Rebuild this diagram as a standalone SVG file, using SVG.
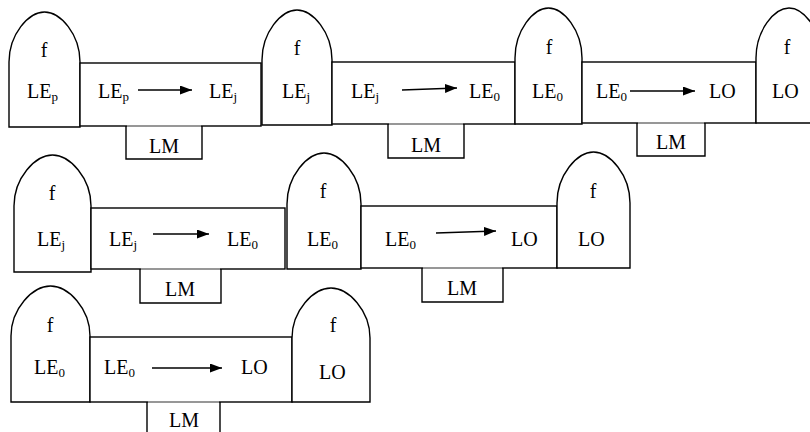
<svg xmlns="http://www.w3.org/2000/svg" width="810" height="432" viewBox="0 0 810 432">
  <style>
    .sh { fill: #fff; stroke: #000; stroke-width: 1.4; }
    .lm { fill: none; stroke: #000; stroke-width: 1.4; }
    .seam { stroke: #b0b0b0; stroke-width: 1.6; }
    .ar { stroke: #000; stroke-width: 1.5; fill: none; marker-end: url(#head); }
    text { font-family: "Liberation Serif", "Times New Roman", serif; font-size: 20px; fill: #000; }
    .c { text-anchor: middle; }
    .sub { font-size: 13px; }
  </style>
  <defs>
    <marker id="head" markerUnits="userSpaceOnUse" markerWidth="12" markerHeight="9" refX="12" refY="4.5" orient="auto">
      <path d="M0,0 L12,4.5 L0,9 Z" fill="#000"/>
    </marker>
  </defs>

  <rect width="810" height="432" fill="#fff"/>

  <!-- Row 1 -->
  <g id="dome1">
    <path class="sh" d="M9,127 V62 C9,34.5 28.5,12 44.5,12 C60.5,12 80,34.5 80,62 V127 Z"/>
    <text class="c" x="44" y="57">f</text>
    <text x="27" y="98">LE<tspan class="sub" dy="3">p</tspan></text>
  </g>
  <g id="stage1">
    <rect class="sh" x="80" y="63" width="181" height="63"/>
    <text x="98" y="98">LE<tspan class="sub" dy="3">p</tspan></text>
    <text x="209" y="98">LE<tspan class="sub" dy="3">j</tspan></text>
  </g>
  <g id="lm1">
    <path class="lm" d="M126,126 V159 H202 V126"/>
    <line class="seam" x1="127" y1="126" x2="201" y2="126"/>
    <text class="c" x="164" y="153">LM</text>
  </g>

  <g id="dome2">
    <path class="sh" d="M262,125 V60 C262,32.5 281.2,10 297,10 C312.8,10 332,32.5 332,60 V125 Z"/>
    <text class="c" x="297" y="55">f</text>
    <text x="282" y="98">LE<tspan class="sub" dy="3">j</tspan></text>
  </g>
  <g id="stage2">
    <rect class="sh" x="332" y="62" width="183" height="62"/>
    <text x="351" y="98">LE<tspan class="sub" dy="3">j</tspan></text>
    <text x="469" y="98">LE<tspan class="sub" dy="3">0</tspan></text>
  </g>
  <g id="lm2">
    <path class="lm" d="M388,124 V158 H464 V124"/>
    <line class="seam" x1="389" y1="124" x2="463" y2="124"/>
    <text class="c" x="426" y="152">LM</text>
  </g>

  <g id="dome3">
    <path class="sh" d="M515,124 V58 C515,30.5 533.4,8 548.5,8 C563.6,8 582,30.5 582,58 V124 Z"/>
    <text class="c" x="549" y="54">f</text>
    <text x="532" y="98">LE<tspan class="sub" dy="3">0</tspan></text>
  </g>
  <g id="stage3">
    <rect class="sh" x="582" y="62" width="174" height="61"/>
    <text x="596" y="98">LE<tspan class="sub" dy="3">0</tspan></text>
    <text x="709" y="98">LO</text>
  </g>
  <g id="lm3">
    <path class="lm" d="M637,123 V156 H705 V123"/>
    <line class="seam" x1="638" y1="123" x2="704" y2="123"/>
    <text class="c" x="671" y="149">LM</text>
  </g>

  <g id="dome4">
    <path class="sh" d="M756,123 V58 C756,30.5 774.2,8 789,8 C803.8,8 822,30.5 822,58 V123 Z"/>
    <text class="c" x="787" y="54">f</text>
    <text x="772" y="98">LO</text>
  </g>

  <!-- Row 2 -->
  <g id="dome5">
    <path class="sh" d="M14,272 V206 C14,177.95 35.2,155 52.5,155 C69.8,155 91,177.95 91,206 V272 Z"/>
    <text class="c" x="52" y="200">f</text>
    <text x="37" y="246">LE<tspan class="sub" dy="3">j</tspan></text>
  </g>
  <g id="stage5">
    <rect class="sh" x="91" y="208" width="194" height="61"/>
    <text x="109" y="246">LE<tspan class="sub" dy="3">j</tspan></text>
    <text x="227" y="246">LE<tspan class="sub" dy="3">0</tspan></text>
  </g>
  <g id="lm5">
    <path class="lm" d="M140,269 V303 H221 V269"/>
    <line class="seam" x1="141" y1="269" x2="220" y2="269"/>
    <text class="c" x="180" y="296">LM</text>
  </g>

  <g id="dome6">
    <path class="sh" d="M287,269 V204 C287,175.95 307.4,153 324,153 C340.6,153 361,175.95 361,204 V269 Z"/>
    <text class="c" x="323" y="198">f</text>
    <text x="307" y="246">LE<tspan class="sub" dy="3">0</tspan></text>
  </g>
  <g id="stage6">
    <rect class="sh" x="361" y="206" width="196" height="62"/>
    <text x="385" y="246">LE<tspan class="sub" dy="3">0</tspan></text>
    <text x="511" y="246">LO</text>
  </g>
  <g id="lm6">
    <path class="lm" d="M422,268 V302 H503 V268"/>
    <line class="seam" x1="423" y1="268" x2="502" y2="268"/>
    <text class="c" x="462" y="295">LM</text>
  </g>

  <g id="dome7">
    <path class="sh" d="M557,268 V203 C557,174.95 577.1,152 593.5,152 C609.9,152 630,174.95 630,203 V268 Z"/>
    <text class="c" x="593" y="198">f</text>
    <text x="578" y="246">LO</text>
  </g>

  <!-- Row 3 -->
  <g id="dome8">
    <path class="sh" d="M11,402 V336 C11,308.5 32.7,286 50.5,286 C68.3,286 90,308.5 90,336 V402 Z"/>
    <text class="c" x="50" y="332">f</text>
    <text x="34" y="374">LE<tspan class="sub" dy="3">0</tspan></text>
  </g>
  <g id="stage8">
    <rect class="sh" x="90" y="337" width="202" height="65"/>
    <text x="104" y="374">LE<tspan class="sub" dy="3">0</tspan></text>
    <text x="241" y="374">LO</text>
  </g>
  <g id="lm8">
    <path class="lm" d="M147,402 V445 H220 V402"/>
    <line class="seam" x1="148" y1="402" x2="219" y2="402"/>
    <text class="c" x="184" y="427">LM</text>
  </g>

  <g id="dome9">
    <path class="sh" d="M292,402 V338 C292,310.5 313.5,288 331,288 C348.5,288 370,310.5 370,338 V402 Z"/>
    <text class="c" x="333" y="332">f</text>
    <text x="319" y="379">LO</text>
  </g>

  <!-- Transition arrows -->
  <g id="connectors">
    <line class="ar" x1="138" y1="90" x2="192" y2="90"/>
    <line class="ar" x1="402" y1="90" x2="457" y2="88"/>
    <line class="ar" x1="630" y1="91" x2="695" y2="91"/>
    <line class="ar" x1="153" y1="234" x2="209" y2="234"/>
    <line class="ar" x1="436" y1="233" x2="496" y2="231"/>
    <line class="ar" x1="152" y1="368" x2="222" y2="368"/>
  </g>
</svg>
